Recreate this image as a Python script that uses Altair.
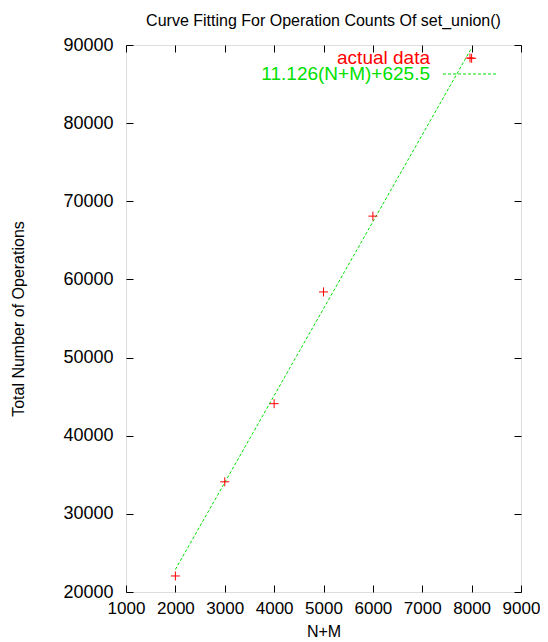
import altair as alt
import pandas as pd

# data
nm = [2000, 3000, 4000, 5000, 6000, 8000]
ops = [22050, 34100, 44100, 58400, 68100, 88300]

fit_x = [2000, 8000]
fit_y = [22880, 89630]

x_ticks = [1000, 2000, 3000, 4000, 5000, 6000, 7000, 8000, 9000]
y_ticks = [20000, 30000, 40000, 50000, 60000, 70000, 80000, 90000]

RED = "#ff0000"
GREEN = "#00e000"
FONT = "Liberation Sans"
W, H = 395, 547
TS = 7

pts = pd.DataFrame({"x": nm, "y": ops})
fit = pd.DataFrame({"x": fit_x, "y": fit_y})

xs = alt.Scale(domain=[1000, 9000], nice=False)
ys = alt.Scale(domain=[20000, 90000], nice=False)

plus = "M-1,0L1,0M0,-1L0,1"

x_bottom = alt.Axis(values=x_ticks, format="d", orient="bottom", offset=-TS, tickSize=TS, domain=False,
                    grid=False, labelPadding=8, labelFontSize=17, labelFont=FONT,
                    labelColor="black", tickColor="black", title="N+M",
                    titleFont=FONT, titleFontSize=16, titleFontWeight="normal",
                    titleColor="black", titleY=46, titleBaseline="middle", labelFlush=False)
y_left = alt.Axis(values=y_ticks, format="d", orient="left", offset=-TS, tickSize=TS, domain=False,
                  grid=False, labelPadding=13, labelFontSize=18, labelFont=FONT,
                  labelColor="black", tickColor="black", title="Total Number of Operations",
                  titleFont=FONT, titleFontSize=16, titleFontWeight="normal",
                  titleColor="black", titleX=-115, titleBaseline="middle", labelFlush=False)
x_top = alt.Axis(values=x_ticks, orient="top", offset=-TS, tickSize=TS, domain=False,
                 grid=False, labels=False, title=None, tickColor="black")
y_right = alt.Axis(values=y_ticks, orient="right", offset=-TS, tickSize=TS, domain=False,
                   grid=False, labels=False, title=None, tickColor="black")

line = alt.Chart(fit).mark_line(color=GREEN, strokeDash=[3, 2], strokeWidth=1, clip=True).encode(
    x=alt.X("x:Q", scale=xs, axis=x_bottom),
    y=alt.Y("y:Q", scale=ys, axis=y_left),
)

points = alt.Chart(pts).mark_point(shape=plus, size=81, color=RED, filled=False,
                                   strokeWidth=1, opacity=1).encode(
    x=alt.X("x:Q", scale=xs, axis=x_top),
    y=alt.Y("y:Q", scale=ys, axis=y_right),
)

leg = pd.DataFrame({"label": ["actual data", "11.126(N+M)+625.5"],
                    "color": [RED, GREEN]})

leg_text1 = alt.Chart(leg.iloc[[0]]).mark_text(align="right", baseline="middle", font=FONT,
                                               fontSize=19, color=RED).encode(
    text="label:N", x=alt.value(304), y=alt.value(13))
leg_text2 = alt.Chart(leg.iloc[[1]]).mark_text(align="right", baseline="middle", font=FONT,
                                               fontSize=19, color=GREEN).encode(
    text="label:N", x=alt.value(304), y=alt.value(29))
leg_pt = alt.Chart(leg.iloc[[0]]).mark_point(shape=plus, size=81, color=RED, filled=False,
                                             strokeWidth=1, opacity=1).encode(
    x=alt.value(344), y=alt.value(13))
leg_line = alt.Chart(leg.iloc[[1]]).mark_rule(color=GREEN, strokeDash=[3, 2], strokeWidth=1).encode(
    x=alt.value(317), x2=alt.value(371), y=alt.value(29))

chart = alt.layer(line, points, leg_text1, leg_text2, leg_pt, leg_line).resolve_axis(
    x="independent", y="independent"
).properties(
    width=W, height=H,
    title=alt.TitleParams("Curve Fitting For Operation Counts Of set_union()", font=FONT,
                          fontSize=16, fontWeight="normal", color="black", anchor="middle",
                          offset=7),
    autosize=alt.AutoSizeParams(type="none"),
    padding={"left": 118, "top": 37, "right": 19, "bottom": 48},
).configure_view(stroke="black", strokeWidth=1.2).configure(background="white")

chart.save("out.html", embed_options={"renderer": "svg", "actions": False})
